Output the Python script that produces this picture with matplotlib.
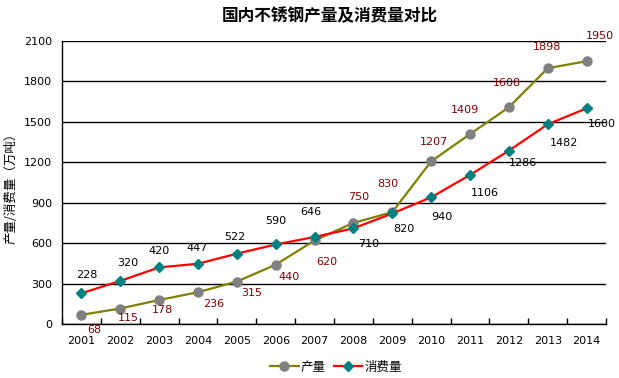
import numpy as np
import matplotlib.pyplot as plt
from matplotlib.ticker import MultipleLocator, FixedLocator

plt.rcParams['font.family'] = ['DejaVu Sans', 'Noto Sans CJK SC']

years = ['2001', '2002', '2003', '2004', '2005', '2006', '2007',
         '2008', '2009', '2010', '2011', '2012', '2013', '2014']
production = [68, 115, 178, 236, 315, 440, 620, 750, 830, 1207, 1409, 1608, 1898, 1950]
consumption = [228, 320, 420, 447, 522, 590, 646, 710, 820, 940, 1106, 1286, 1482, 1600]

# label offsets in pixels (dx, dy), dy positive = up
prod_off = [(13, -15), (8, -9), (3, -10), (16, -12), (15, -11), (13, -12), (12, -22),
            (5, 26), (-4, 28), (3, 19), (-5, 24), (-2, 24), (-1, 21), (13, 25)]
cons_off = [(5, 18), (7, 18), (0, 16), (-1, 16), (-2, 17), (0, 23), (-4, 25),
            (15, -16), (12, -16), (11, -20), (15, -18), (14, -12), (16, -19), (15, -16)]

fig = plt.figure(figsize=(6.19, 3.78), dpi=100)
ax = fig.add_axes([62/619, 1 - 324/378, 544/619, 283/378])

x = np.arange(len(years))

ax.plot(x, production, color='#808000', lw=1.6, marker='o', ms=6.5,
        mfc='#808080', mec='#808080', label='产量', zorder=3)
ax.plot(x, consumption, color='#FF0000', lw=1.6, marker='D', ms=5.5,
        mfc='#008080', mec='#008080', label='消费量', zorder=3)

for i in range(len(years)):
    ax.annotate(str(production[i]), (x[i], production[i]), xytext=prod_off[i],
                textcoords='offset pixels', ha='center', va='center',
                fontsize=8, color='#800000', zorder=4)
    ax.annotate(str(consumption[i]), (x[i], consumption[i]), xytext=cons_off[i],
                textcoords='offset pixels', ha='center', va='center',
                fontsize=8, color='black', zorder=4)

ax.set_xlim(-0.5, len(years) - 0.5)
ax.set_ylim(0, 2100)
ax.yaxis.set_major_locator(MultipleLocator(300))
ax.set_xticks(x)
ax.set_xticklabels(years)
ax.xaxis.set_minor_locator(FixedLocator(np.arange(-0.5, len(years), 1.0)))
ax.tick_params(axis='x', which='major', length=0, pad=9, labelsize=8)
ax.tick_params(axis='x', which='minor', length=4, direction='in', width=1)
ax.tick_params(axis='y', length=0, pad=7, labelsize=8)

ax.grid(axis='y', color='black', lw=1, zorder=1)
ax.set_axisbelow(True)
for s in ['top', 'right']:
    ax.spines[s].set_visible(False)
for s in ['left', 'bottom']:
    ax.spines[s].set_linewidth(1)

fig.text(11/619, 1 - 185/378, '产量/消费量（万吨）', rotation=90, ha='center', va='center',
         fontsize=9, family=['Noto Sans CJK SC'])
fig.text(330/619, 1 - 16/378, '国内不锈钢产量及消费量对比', ha='center', va='center',
         fontsize=12, fontweight='bold', family=['Noto Sans CJK SC'])

fig.legend(loc='center', bbox_to_anchor=(336/619, 1 - 367/378), ncol=2, frameon=False,
           prop={'family': 'Noto Sans CJK SC', 'size': 9}, handlelength=2.3,
           handletextpad=0.2, columnspacing=0.6, borderpad=0)

fig.savefig('out.png', dpi=100)
